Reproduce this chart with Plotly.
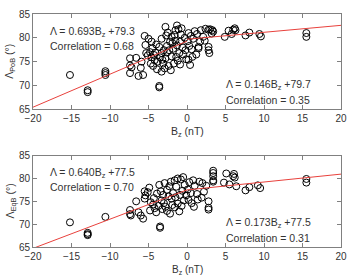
import plotly.graph_objects as go

# ---- data ----
top_x = [-15.2, -12.9, -12.9, -10.6, -10.6, -10.6, -7.4, -7.4, -7.2, -7.4,
         -6.6, -6.3, -6.0, -5.7, -5.9,
         -5.5, -5.0, -5.4, -5.3, -5.1, -4.8, -4.6, -4.5, -4.3, -4.2, -4.7, -4.4, -3.9, -3.6, -3.6,
         -3.3, -3.8, -3.5, -3.3, -3.0, -3.1, -2.8, -2.6, -2.8, -2.2, -2.6, -2.4, -2.9, -2.0, -1.8,
         -1.6, -1.5, -1.3, -1.3, -1.2, -1.7, -1.0, -0.8, -0.9, -0.6, -0.5, -0.3, -0.2, -0.1, -1.1,
         -2.0, -1.9, -2.3, -3.6, -4.0, -4.6, -3.3, -2.5, -1.5, -0.7, -1.4, -0.9, -2.1, -3.2, -4.1, -2.7,
         0.1, 0.3, 0.2, 0.5, 0.6, 0.2, 0.4, 0.8, 1.0, 1.3, 1.5, 1.5, 1.8, 2.1, 2.4, 2.8, 3.0, 3.3, 3.4,
         2.8, 2.8, 2.9, 1.2, 0.7, 2.3, 1.7, 3.2,
         4.9, 5.4, 5.8, 6.0, 6.2, 6.3, 7.6, 8.1, 9.4, 9.6, 15.5, 15.5]
top_y = [72.2, 69.0, 68.6, 73.0, 72.6, 72.2, 75.7, 74.2, 73.8, 72.6,
         75.8, 72.0, 73.7, 72.2, 75.0,
         80.4, 79.8, 78.5, 76.8, 76.3, 77.0, 75.9, 77.8, 76.4, 75.3, 74.6, 74.1, 73.4, 69.9, 69.6,
         72.9, 75.0, 75.9, 76.8, 77.4, 74.6, 75.7, 78.3, 82.3, 79.2, 76.9, 74.1, 73.6, 76.1, 77.7,
         80.6, 79.4, 82.6, 78.4, 75.2, 74.6, 76.8, 80.7, 79.2, 78.0, 76.5, 80.0, 77.4, 75.5, 81.8,
         80.2, 78.9, 77.4, 78.1, 78.6, 79.2, 79.8, 81.1, 81.6, 82.0, 76.0, 74.4, 73.2, 75.4, 76.9, 80.5,
         79.3, 78.3, 81.0, 80.4, 77.6, 75.4, 74.3, 79.8, 81.4, 80.8, 78.1, 77.8, 81.6, 80.2, 81.9, 81.7, 81.8, 81.6, 81.3,
         78.1, 77.4, 76.8, 76.5, 76.0, 79.4, 79.2, 80.9,
         80.2, 81.5, 80.8, 81.7, 82.0, 81.6, 80.5, 81.1, 80.8, 80.3, 81.0, 80.2]

bot_x = [-15.2, -12.9, -12.9, -12.9, -10.6,
         -7.4, -7.4, -7.3, -6.6, -6.3, -6.0, -5.7,
         -5.5, -5.4, -5.5, -4.9, -5.1, -4.7, -4.4, -4.2, -4.8, -4.0, -3.5, -3.5, -3.7, -3.3, -3.1,
         -3.0, -2.8, -2.6, -2.3, -2.6, -2.0, -1.8, -1.6, -1.4, -1.2, -1.6, -0.9, -0.8, -0.6, -0.4,
         -0.3, -0.1, -2.1, -1.9, -2.4, -3.4, -3.9, -4.3, -3.6, -2.9, -1.2, -0.5, -1.0, -2.2, -3.2,
         -1.5, -0.7,
         0.1, 0.3, 0.2, 0.5, 0.6, 0.8, 1.0, 1.3, 1.4, 1.6, 2.0, 2.2, 0.9, 1.9, 2.5, 2.8, 2.8, 2.8,
         3.4, 3.4, 3.4, 3.4, 3.4,
         4.8, 5.1, 5.5, 6.0, 6.1, 6.2, 6.4, 7.6, 8.1, 9.2, 9.5, 15.5, 15.5]
bot_y = [70.4, 68.1, 67.8, 67.6, 71.6,
         73.1, 72.2, 71.9, 75.0, 72.6, 71.9, 71.2,
         77.2, 76.3, 75.6, 78.0, 77.0, 74.8, 74.3, 73.5, 73.0, 72.6, 69.5, 69.2, 74.0, 75.2, 76.4,
         74.6, 73.8, 77.5, 78.3, 72.9, 75.6, 76.8, 79.6, 78.2, 74.5, 73.7, 76.4, 79.8, 77.3, 75.2,
         78.6, 76.3, 79.3, 74.2, 76.1, 77.2, 76.7, 75.7, 78.6, 79.0, 80.0, 80.3, 72.8, 72.3, 73.3,
         75.9, 74.0,
         77.6, 79.2, 75.3, 76.8, 74.6, 79.6, 78.4, 76.6, 75.4, 79.3, 79.0, 77.1, 73.8, 75.8, 78.4, 75.0, 73.6, 73.2,
         81.7, 81.2, 80.5, 79.6, 79.3,
         79.1, 81.1, 78.7, 80.5, 81.0, 80.2, 78.3, 77.4, 78.1, 78.5, 77.9, 79.9, 79.1]

# fits: [slope_neg, intercept_neg, slope_pos, intercept_pos]
top_fit = [0.693, 79.3, 0.146, 79.7]
bot_fit = [0.640, 77.5, 0.173, 77.5]
top_corr = ["0.68", "0.35"]
bot_corr = ["0.70", "0.31"]
x_ticks = [-20, -15, -10, -5, 0, 5, 10, 15, 20]
y_ticks = [65, 70, 75, 80, 85]

FONT = "Liberation Sans, Arial, sans-serif"
TXT = "#333333"
RED = "#e8413c"

fig = go.Figure()

def add_panel(xs, ys, fit, xa, ya):
    fig.add_trace(go.Scatter(x=xs, y=ys, mode="markers", xaxis=xa, yaxis=ya,
                             marker=dict(symbol="circle-open", size=7, color="black",
                                         line=dict(width=1, color="black")),
                             showlegend=False, hoverinfo="skip"))
    m1, b1, m2, b2 = fit
    fig.add_trace(go.Scatter(x=[-20, 0], y=[m1 * -20 + b1, b1], mode="lines",
                             xaxis=xa, yaxis=ya, line=dict(color=RED, width=1),
                             showlegend=False, hoverinfo="skip"))
    fig.add_trace(go.Scatter(x=[0, 20], y=[b2, m2 * 20 + b2], mode="lines",
                             xaxis=xa, yaxis=ya, line=dict(color=RED, width=1),
                             showlegend=False, hoverinfo="skip"))

add_panel(top_x, top_y, top_fit, "x", "y")
add_panel(bot_x, bot_y, bot_fit, "x2", "y2")

axis_common = dict(showgrid=False, zeroline=False, showline=True, linecolor="#808080",
                   linewidth=1, mirror="ticks", ticks="inside", ticklen=4, tickcolor="#808080",
                   tickfont=dict(family=FONT, size=10, color=TXT))

fig.update_layout(
    width=355, height=275,
    margin=dict(l=33, r=8, t=10, b=28),
    paper_bgcolor="white", plot_bgcolor="white",
    xaxis=dict(domain=[0, 1], range=[-20, 20], tickvals=x_ticks, anchor="y", **axis_common),
    yaxis=dict(domain=[0.591, 1], range=[65, 85], tickvals=y_ticks, anchor="x", **axis_common),
    xaxis2=dict(domain=[0, 1], range=[-20, 20], tickvals=x_ticks, anchor="y2", **axis_common),
    yaxis2=dict(domain=[0, 0.392], range=[65, 85], tickvals=y_ticks, anchor="x2", **axis_common),
)

def ann(text, x, y, xref, yref, **kw):
    d = dict(text=text, x=x, y=y, xref=xref, yref=yref, showarrow=False,
             font=dict(family=FONT, size=10.5, color=TXT), xanchor="left", yanchor="middle")
    d.update(kw)
    fig.add_annotation(**d)

def eq(m, b):
    return f"\u039b = {m:.3f}B<sub>z</sub> +{b:.1f}"

# top panel texts
ann(eq(top_fit[0], top_fit[1]), -18.1, 81.3, "x", "y")
ann(f"Correlation = {top_corr[0]}", -18.1, 78.2, "x", "y")
ann(eq(top_fit[2], top_fit[3]), 4.85, 70.2, "x", "y")
ann(f"Correlation = {top_corr[1]}", 4.85, 66.9, "x", "y")
# bottom panel texts
ann(eq(bot_fit[0], bot_fit[1]), -18.1, 81.3, "x2", "y2")
ann(f"Correlation = {bot_corr[0]}", -18.1, 78.1, "x2", "y2")
ann(eq(bot_fit[2], bot_fit[3]), 4.85, 70.3, "x2", "y2")
ann(f"Correlation = {bot_corr[1]}", 4.85, 67.0, "x2", "y2")

# axis titles
ann("B<sub>z</sub> (nT)", 0.5, 0.494, "paper", "paper", xanchor="center", font=dict(family=FONT, size=10.5, color=TXT))
ann("B<sub>z</sub> (nT)", 0.5, -0.0633, "paper", "paper", xanchor="center", yanchor="top",
    font=dict(family=FONT, size=10, color=TXT))
ann("\u039b<sub>PoB</sub> (\u00b0)", -0.073, 0.797, "paper", "paper", xanchor="center", textangle=-90,
    font=dict(family=FONT, size=10.5, color=TXT))
ann("\u039b<sub>EqB</sub> (\u00b0)", -0.073, 0.198, "paper", "paper", xanchor="center", textangle=-90,
    font=dict(family=FONT, size=10.5, color=TXT))

fig.write_html("out.html")
